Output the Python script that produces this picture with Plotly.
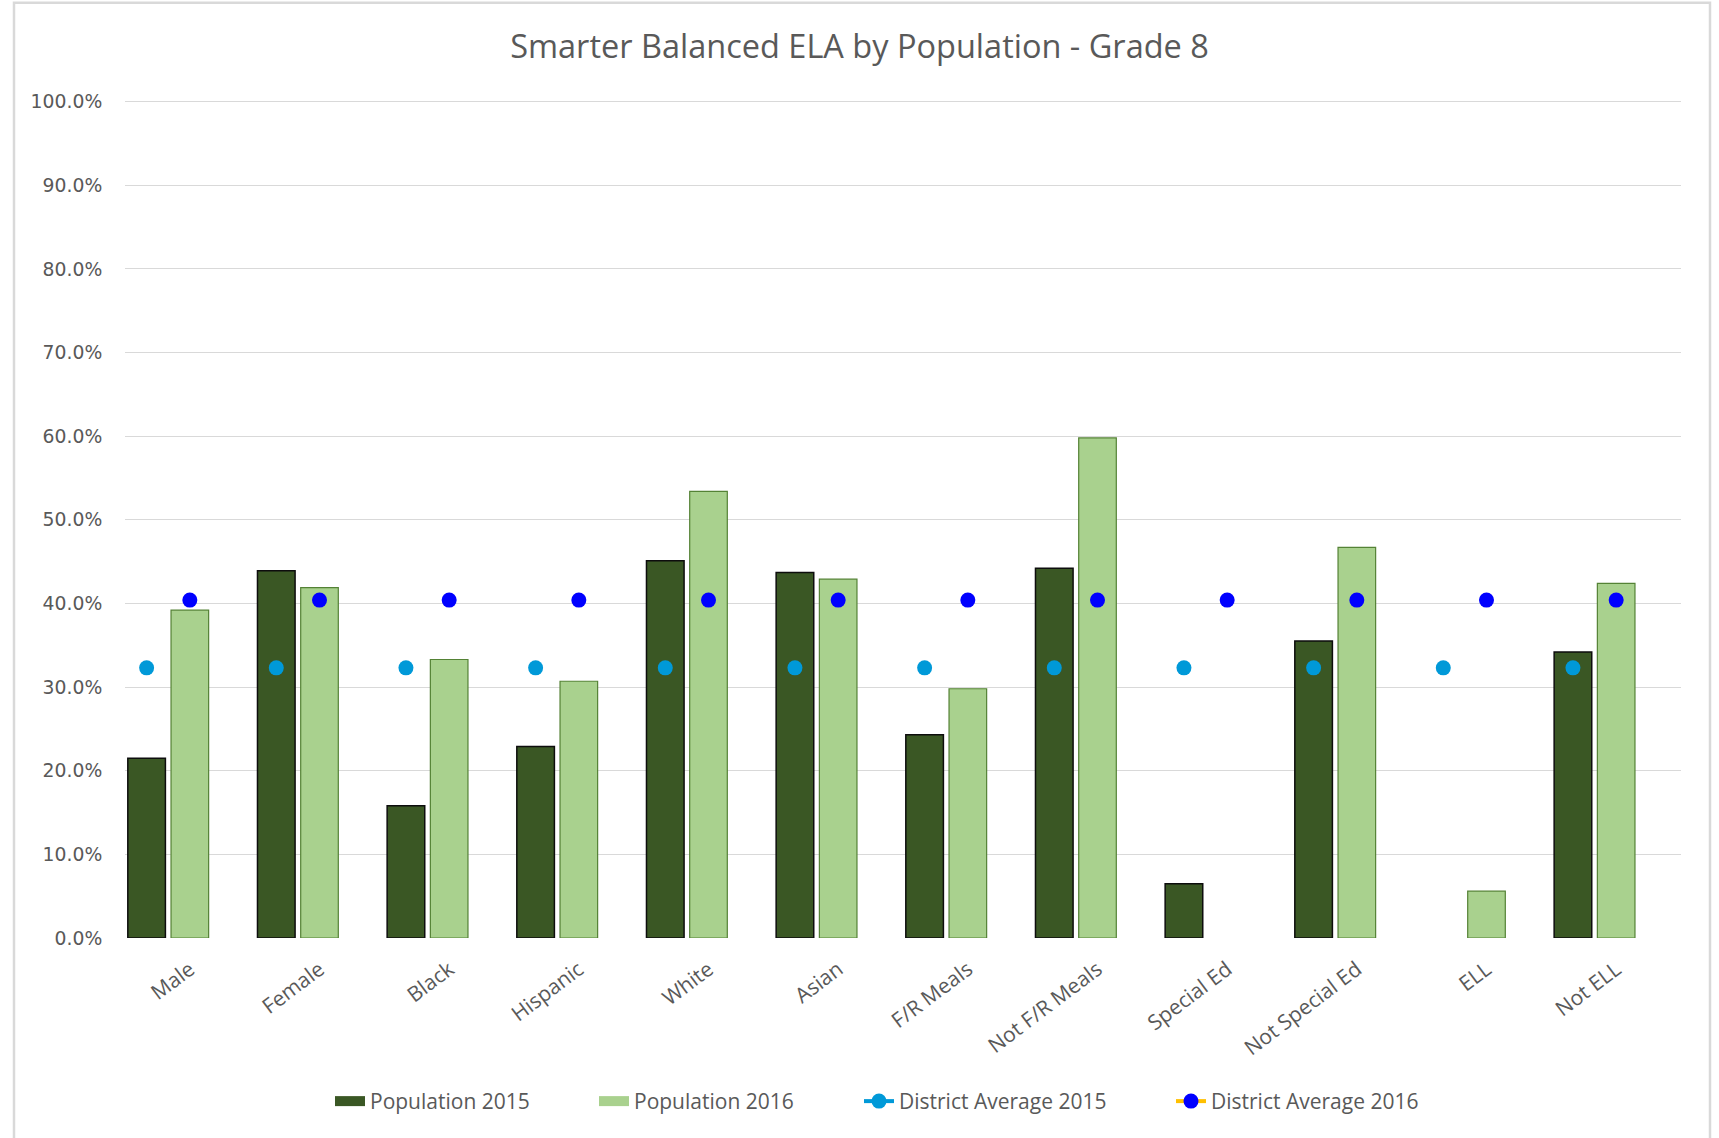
import plotly.graph_objects as go

categories = ["Male", "Female", "Black", "Hispanic", "White", "Asian", "F/R Meals",
              "Not F/R Meals", "Special Ed", "Not Special Ed", "ELL", "Not ELL"]
pop_2015 = [0.215, 0.439, 0.158, 0.229, 0.451, 0.437, 0.243, 0.442, 0.065, 0.355, None, 0.342]
pop_2016 = [0.392, 0.419, 0.333, 0.307, 0.534, 0.429, 0.298, 0.598, None, 0.467, 0.056, 0.424]
dist_2015 = [0.323] * 12
dist_2016 = [0.404] * 12
y_ticks = [i / 10 for i in range(11)]

# layout parameters (slot = one third of a category)
SLOT = 1 / 3
BAR_W = 0.29
xs = list(range(len(categories)))

W, H = 1719, 1138
PL, PR, PT, PB = 125, 1681, 102, 938.5   # plot area in pixels
Y_TOP = 1.002
plot_h = (PB - PT) * Y_TOP
plot_w = PR - PL

C15, C15_LINE = "#3A5724", "#0d0d0d"
C16, C16_LINE = "#A9D18E", "#548235"
CD15, CD16, CD16_LINE = "#0099D8", "#0000FF", "#FFC000"


def isolated(xvals, yvals):
    """Insert gaps so that no connecting line is drawn between markers."""
    ox, oy = [], []
    for a, b in zip(xvals, yvals):
        ox += [a, None]
        oy += [b, None]
    return ox, oy


FONT = "Open Sans"
GREY = "#595959"

fig = go.Figure()
fig.add_trace(go.Bar(
    x=xs, y=pop_2015, name="Population 2015", showlegend=False,
    width=BAR_W, offset=-SLOT - BAR_W / 2,
    marker=dict(color=C15, line=dict(color=C15_LINE, width=1.5)),
))
fig.add_trace(go.Bar(
    x=xs, y=pop_2016, name="Population 2016", showlegend=False,
    width=BAR_W, offset=-BAR_W / 2,
    marker=dict(color=C16, line=dict(color=C16_LINE, width=1.2)),
))
# legend swatches for the bar series (wide rectangles, as in the original)
fig.add_trace(go.Scatter(
    x=[None], y=[None], name="Population 2015", mode="lines",
    line=dict(color=C15, width=14), legend="legend",
))
fig.add_trace(go.Scatter(
    x=[None], y=[None], name="Population 2016", mode="lines",
    line=dict(color=C16, width=14), legend="legend2",
))
mx, my = isolated([x - SLOT for x in xs], dist_2015)
fig.add_trace(go.Scatter(
    x=mx, y=my, name="District Average 2015", mode="lines+markers",
    connectgaps=False, legend="legend3",
    line=dict(color=CD15, width=4),
    marker=dict(color=CD15, size=15),
))
mx, my = isolated(xs, dist_2016)
fig.add_trace(go.Scatter(
    x=mx, y=my, name="District Average 2016", mode="lines+markers",
    connectgaps=False, legend="legend4",
    line=dict(color=CD16_LINE, width=4),
    marker=dict(color=CD16, size=15),
))


def legend_at(text_left_px):
    return dict(orientation="h", x=(text_left_px - 40 - PL) / plot_w, xanchor="left",
                y=(PB - 1102) / plot_h, yanchor="middle",
                font=dict(family=FONT, size=21, color=GREY),
                bgcolor="rgba(0,0,0,0)")


fig.update_layout(
    width=W, height=H,
    margin=dict(l=PL, r=W - PR, t=PB - plot_h, b=H - PB, autoexpand=False),
    paper_bgcolor="white", plot_bgcolor="white",
    barmode="overlay",
    title=dict(text="Smarter Balanced ELA by Population - Grade 8",
               x=0.5, xanchor="center", xref="container",
               y=1 - 47 / H, yanchor="middle", yref="container",
               font=dict(family=FONT, size=32.5, color=GREY)),
    font=dict(family=FONT, color=GREY),
    showlegend=True,
    legend=legend_at(370),
    legend2=legend_at(634),
    legend3=legend_at(899),
    legend4=legend_at(1211),
    xaxis=dict(
        type="linear", range=[-0.5, len(categories) - 0.5],
        tickmode="array", tickvals=xs, ticktext=categories,
        tickangle=-37, showgrid=False, zeroline=False, showline=False,
        ticks="outside", ticklen=10, tickcolor="rgba(0,0,0,0)",
        tickfont=dict(family=FONT, size=21, color=GREY),
    ),
    yaxis=dict(
        range=[0, Y_TOP], tickmode="array", tickvals=y_ticks, tickformat=".1%",
        showgrid=True, gridcolor="#D9D9D9", gridwidth=1.3,
        zeroline=False, showline=False,
        ticks="outside", ticklen=18, tickcolor="rgba(0,0,0,0)",
        tickfont=dict(family="DejaVu Sans", size=18.8, color=GREY),
    ),
    shapes=[dict(type="rect", xref="paper", yref="paper",
                 x0=(14 - PL) / plot_w, x1=(1710 - PL) / plot_w,
                 y0=(PB - 1160) / plot_h, y1=(PB - 3) / plot_h,
                 line=dict(color="#D9D9D9", width=2.5),
                 fillcolor="rgba(0,0,0,0)", layer="below")],
)

fig.write_html("out.html", config={"displayModeBar": False},
               post_script="document.body.style.margin='0';")
